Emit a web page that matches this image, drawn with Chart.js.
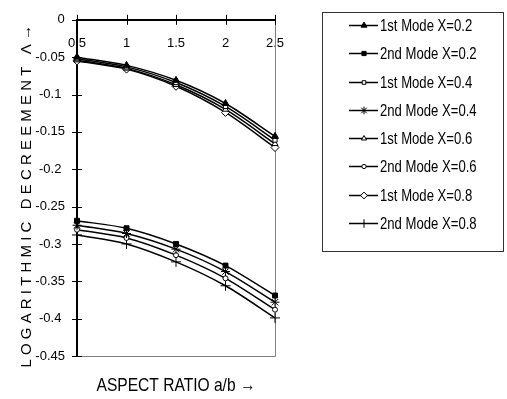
<!DOCTYPE html>
<html>
<head>
<meta charset="utf-8">
<script src="https://cdn.jsdelivr.net/npm/chart.js@4.4.1/dist/chart.umd.min.js"></script>
<style>
html, body { margin: 0; padding: 0; background: #fff; }
#wrap { width: 507px; height: 399px; }
</style>
</head>
<body>
<div id="wrap"><canvas id="chart"></canvas></div>
<script>
const ratios = ['0.5', '1', '1.5', '2', '2.5'];
const seriesLabels = ['1st Mode X=0.2', '2nd Mode X=0.2', '1st Mode X=0.4', '2nd Mode X=0.4',
                      '1st Mode X=0.6', '2nd Mode X=0.6', '1st Mode X=0.8', '2nd Mode X=0.8'];
const first02 = [-0.050, -0.061, -0.081, -0.112, -0.156];
const second02 = [-0.269, -0.279, -0.300, -0.329, -0.369];
const first04 = [-0.052, -0.063, -0.084, -0.116, -0.161];
const second04 = [-0.275, -0.286, -0.307, -0.337, -0.378];
const first06 = [-0.054, -0.065, -0.087, -0.120, -0.166];
const second06 = [-0.281, -0.292, -0.315, -0.346, -0.388];
const first08 = [-0.055, -0.066, -0.089, -0.124, -0.171];
const second08 = [-0.288, -0.300, -0.324, -0.356, -0.399];
const yTicks = [0, -0.05, -0.1, -0.15, -0.2, -0.25, -0.3, -0.35, -0.4, -0.45];
const xTitle = 'ASPECT RATIO a/b \u2192';
const yTitle = 'L O G A R I T H M I C   D E C R E E M E N T   \u039B \u2192    ';

const FONT = "'Liberation Sans', Arial, sans-serif";

function series(i, data, style, fill, r) {
    return {
        label: seriesLabels[i],
        data: data,
        borderColor: 'black',
        borderWidth: 1.5,
        tension: 0.3,
        pointStyle: style,
        pointRadius: r,
        pointBorderWidth: 1,
        pointBorderColor: 'black',
        pointBackgroundColor: fill
    };
}

const datasets = [
    series(0, first02, 'triangle', 'black', 4),
    series(1, second02, 'rect', 'black', 3.5),
    series(2, first04, 'rect', 'white', 3),
    series(3, second04, 'star', 'black', 4.5),
    series(4, first06, 'triangle', 'white', 3.5),
    series(5, second06, 'circle', 'white', 2.5),
    series(6, first08, 'rectRot', 'white', 4),
    series(7, second08, 'cross', 'black', 5)
];

// narrow text, like the original's condensed font
function narrowText(ctx, text, x, y, sx) {
    ctx.save();
    ctx.translate(x, y);
    ctx.scale(sx, 1);
    ctx.fillText(text, 0, 0);
    ctx.restore();
}

const framePlugin = {
    id: 'frame',
    beforeDatasetsDraw(chart) {
        const { ctx, chartArea: a } = chart;
        ctx.save();
        ctx.strokeStyle = '#808080';
        ctx.lineWidth = 1;
        ctx.beginPath();
        ctx.moveTo(a.left, Math.round(a.bottom) + 0.5);
        ctx.lineTo(Math.round(a.right) + 0.5, Math.round(a.bottom) + 0.5);
        ctx.lineTo(Math.round(a.right) + 0.5, a.top);
        ctx.stroke();

        // tick marks crossing the axes
        const xs = chart.scales.x, ys = chart.scales.y;
        ctx.strokeStyle = 'black';
        ctx.lineWidth = 1;
        ctx.beginPath();
        xs.ticks.forEach((t, i) => {
            const px = Math.round(xs.getPixelForTick(i)) + 0.5;
            ctx.moveTo(px, a.top - 5);
            ctx.lineTo(px, a.top + 5);
        });
        ys.ticks.forEach((t, i) => {
            const py = Math.round(ys.getPixelForTick(i)) + 0.5;
            ctx.moveTo(a.left - 5, py);
            ctx.lineTo(a.left + 5, py);
        });
        ctx.stroke();
        ctx.restore();
    },
    afterDraw(chart) {
        const { ctx, chartArea: a } = chart;
        ctx.save();
        ctx.fillStyle = 'black';
        ctx.font = '19px ' + FONT;
        ctx.textAlign = 'center';
        ctx.textBaseline = 'middle';
        narrowText(ctx, xTitle, (a.left + a.right) / 2, 386, 0.82);

        ctx.strokeStyle = '#333';
        ctx.lineWidth = 1;
        ctx.strokeRect(322.5, 12.5, 181, 239);
        ctx.font = '16px ' + FONT;
        ctx.textAlign = 'left';
        chart.data.datasets.forEach((ds, i) => {
            const y = Math.round(25 + i * 28.25) + 0.5;
            ctx.strokeStyle = 'black';
            ctx.lineWidth = 1.5;
            ctx.beginPath();
            ctx.moveTo(349, y);
            ctx.lineTo(378, y);
            ctx.stroke();
            ctx.lineWidth = 1;
            ctx.fillStyle = ds.pointBackgroundColor;
            Chart.helpers.drawPoint(ctx, {
                pointStyle: ds.pointStyle,
                radius: ds.pointRadius * 0.85,
                rotation: 0,
                borderWidth: 1
            }, 364, y);
            ctx.fillStyle = 'black';
            narrowText(ctx, ds.label, 380, y + 1, 0.82);
        });
        ctx.restore();
    }
};

new Chart(document.getElementById('chart'), {
    type: 'line',
    data: { labels: ratios, datasets: datasets },
    options: {
        responsive: true,
        maintainAspectRatio: false,
        animation: false,
        layout: { padding: { left: 0, right: 232, top: 15, bottom: 43 } },
        plugins: {
            legend: { display: false },
            tooltip: { enabled: false }
        },
        scales: {
            x: {
                type: 'category',
                offset: false,
                position: { y: 0 },
                grid: { drawOnChartArea: false, drawTicks: false },
                border: { color: 'black', width: 2 },
                ticks: {
                    color: 'black',
                    padding: 16,
                    maxRotation: 0,
                    autoSkip: false,
                    font: { family: FONT, size: 13 }
                }
            },
            y: {
                min: -0.45,
                max: 0,
                afterFit(scale) { scale.width = 77; },
                afterBuildTicks(scale) { scale.ticks = yTicks.map(v => ({ value: v })); },
                grid: { drawOnChartArea: false, drawTicks: false },
                border: { color: 'black', width: 2 },
                ticks: {
                    color: 'black',
                    padding: 12,
                    crossAlign: 'center',
                    font: { family: FONT, size: 13 },
                    callback: v => v === 0 ? '      0' : String(+v.toFixed(2))
                },
                title: {
                    display: true,
                    text: yTitle,
                    color: 'black',
                    font: { family: FONT, size: 15 },
                    padding: { top: 18, bottom: 0 }
                }
            }
        }
    },
    plugins: [framePlugin]
});
</script>
</body>
</html>
